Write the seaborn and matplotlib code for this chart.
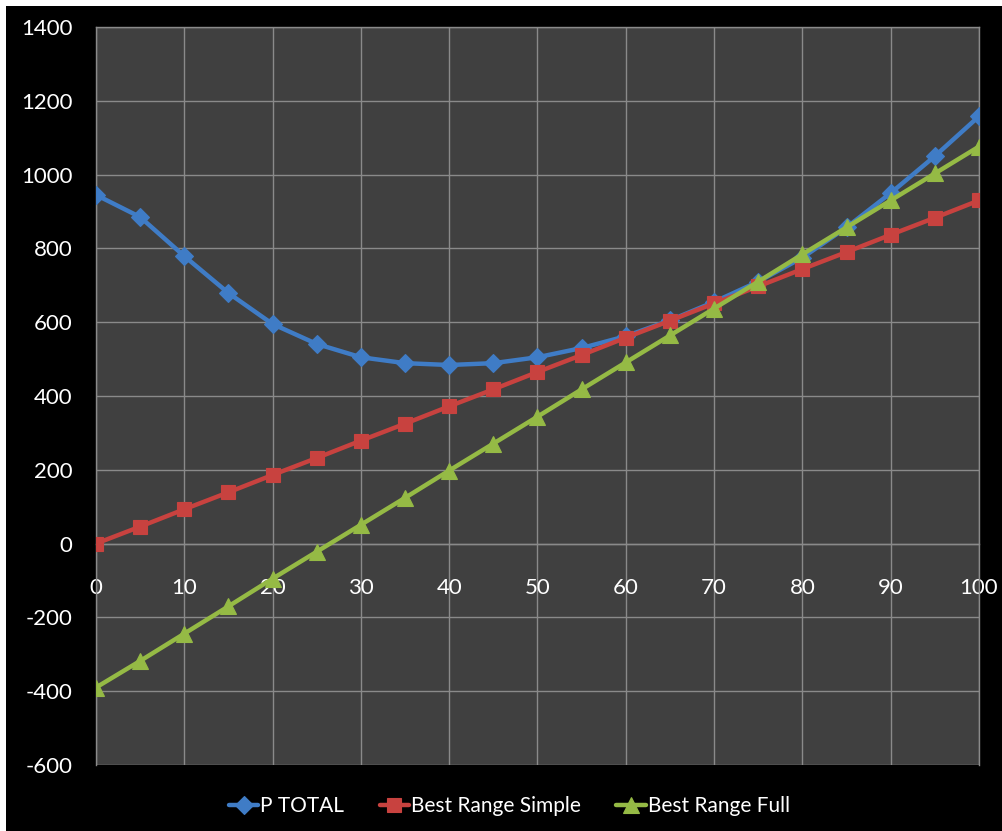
import numpy as np
import pandas as pd
import matplotlib
matplotlib.use("Agg")
import matplotlib.pyplot as plt
import seaborn as sns
from matplotlib.patches import Rectangle

# values
x_vals = [0, 5, 10, 15, 20, 25, 30, 35, 40, 45, 50, 55, 60, 65, 70, 75, 80, 85, 90, 95, 100]
p_total = [945, 885, 779, 679, 595, 541, 505, 489, 484, 489, 505, 530, 562, 605, 655, 710, 775, 857, 950, 1050, 1158]
best_simple = [0, 46, 93, 139, 186, 232, 279, 325, 372, 418, 465, 511, 558, 604, 651, 697, 744, 790, 837, 883, 930]
best_full = [-390, -318, -244, -170, -95, -22, 51, 124, 198, 271, 344, 418, 491, 564, 637, 710, 784, 857, 930, 1003, 1076]

series_names = ["P TOTAL", "Best Range Simple", "Best Range Full"]
colors = ["#3F7CC6", "#C8423F", "#95BA45"]
markers = ["D", "s", "^"]
x_ticks = list(range(0, 101, 10))
y_ticks = list(range(-600, 1401, 200))

df = pd.DataFrame({
    "x": x_vals * 3,
    "value": p_total + best_simple + best_full,
    "series": [s for s in series_names for _ in x_vals],
})

sns.set_style("dark")
plt.rcParams["font.family"] = ["Lato", "DejaVu Sans"]
plt.rcParams["axes.unicode_minus"] = False

fig = plt.figure(figsize=(10.03, 8.31), dpi=100, facecolor="white")
fig.patches.append(Rectangle((6 / 1003, 0), 1, 1 - 6 / 831, transform=fig.transFigure,
                             facecolor="black", edgecolor="none", zorder=-10))

ax = fig.add_axes([96 / 1003, 66 / 831, 883 / 1003, 738 / 831])
ax.set_facecolor("#404040")

sizes = {"P TOTAL": 9.5, "Best Range Simple": 10.5, "Best Range Full": 11.5}
for name, col, mk in zip(series_names, colors, markers):
    sub = df[df["series"] == name]
    sns.lineplot(data=sub, x="x", y="value", ax=ax, color=col, linewidth=3.2,
                 marker=mk, markersize=sizes[name], markeredgecolor=col,
                 markeredgewidth=0.8, label=name, zorder=3)

ax.set_xlim(0, 100)
ax.set_ylim(-600, 1400)
ax.set_xticks(x_ticks)
ax.set_yticks(y_ticks)
ax.grid(True, color="#8A8A8A", linewidth=1)
ax.set_axisbelow(True)
ax.set_xlabel("")
ax.set_ylabel("")

for s in ["top", "right", "left", "bottom"]:
    ax.spines[s].set_visible(True)
    ax.spines[s].set_color("#8A8A8A")
    ax.spines[s].set_linewidth(1)
ax.spines["bottom"].set_position(("data", 0))

ax.tick_params(axis="y", length=0, pad=17, labelsize=16, labelcolor="white")
ax.tick_params(axis="x", length=0, pad=25, labelsize=16, labelcolor="white")

handles, labels = ax.get_legend_handles_labels()
ax.get_legend().remove()
leg = fig.legend(handles, labels, loc="center", bbox_to_anchor=(0.508, 25 / 831), ncol=3,
                 frameon=False, fontsize=15, handlelength=1.4, handletextpad=0.1,
                 columnspacing=1.7, labelcolor="white")

fig.savefig("out.png", dpi=100, facecolor=fig.get_facecolor())
